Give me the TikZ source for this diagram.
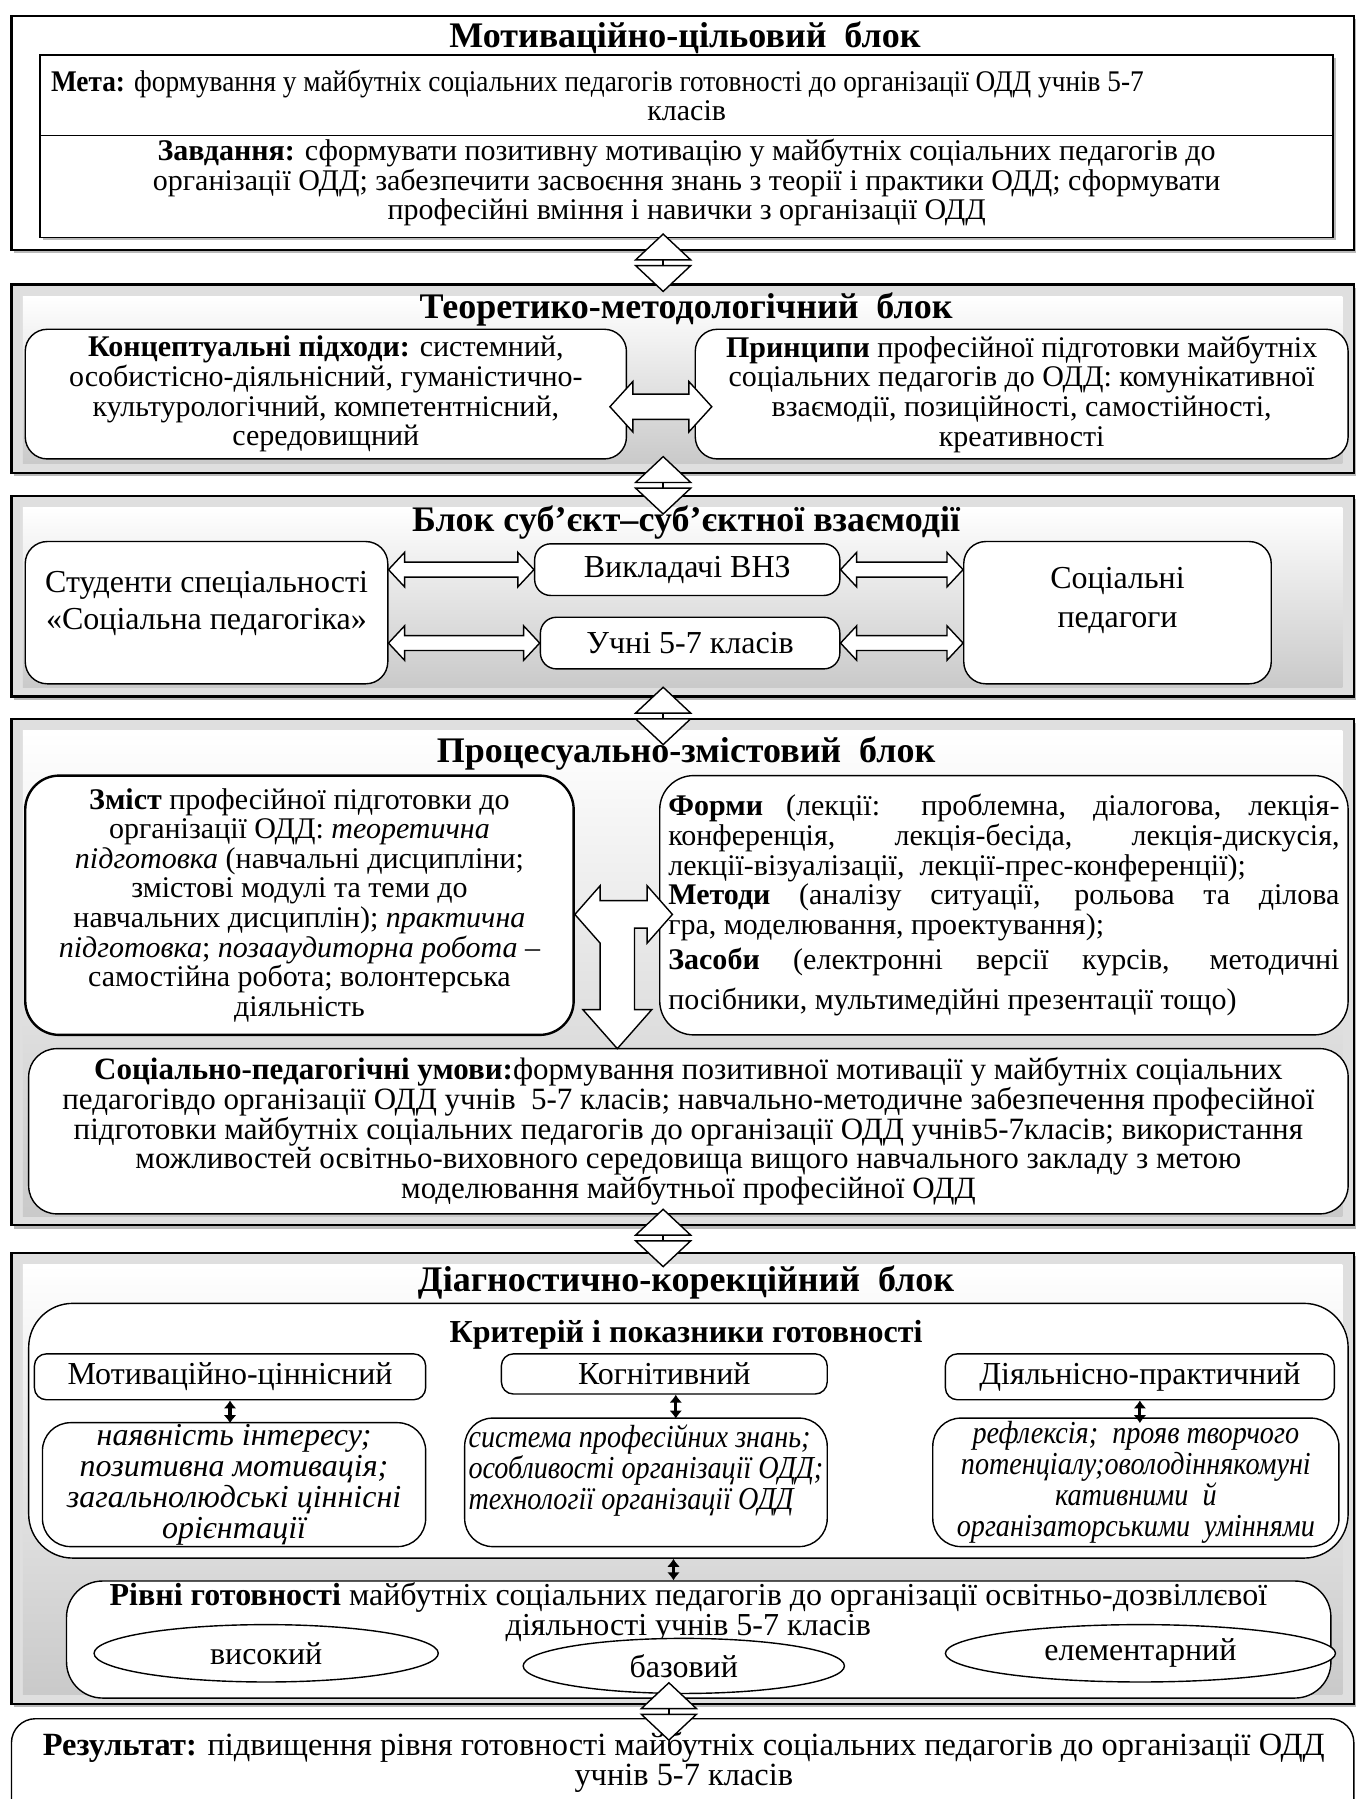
\documentclass[tikz,border=0pt]{standalone}
\usepackage{fontspec}
\setmainfont{Liberation Serif}
\newfontfamily\vuzkyi[FakeStretch=0.91]{Liberation Serif}
\newfontfamily\kurs[FakeStretch=0.88]{Liberation Serif}
\usepackage{tikz}
\usetikzlibrary{calc}
\usetikzlibrary{positioning}
\usetikzlibrary{shapes.geometric}
\usetikzlibrary{arrows.meta}
\usetikzlibrary{shadows}

\newlength{\od}
\setlength{\od}{0.5735pt}
\newcommand{\osn}{\fontsize{15}{14.8}\selectfont}
\newcommand{\osnv}{\fontsize{16}{15.4}\selectfont}
\newcommand{\zag}{\fontsize{18}{20}\selectfont\bfseries}

\tikzset{
  ramec/.style args={#1/#2/#3/#4}{at={(#1/2+#3/2,#2/2+#4/2)},
    minimum width={(#3-#1)*\od}, minimum height={(#4-#2)*\od}},
  blok/.style={draw, line width=1.1pt, fill=gray!25, inner sep=0pt,
    drop shadow={shadow xshift=1.3pt, shadow yshift=-1.6pt, fill=gray!55, opacity=1}},
  tin/.style={drop shadow={shadow xshift=1.5pt, shadow yshift=-1.5pt, fill=gray!55, opacity=1}},
  panel/.style={inner sep=0pt, top color=white, bottom color=gray!42},
  zagol/.style={font=\zag, inner sep=0pt},
  ramka/.style={draw, fill=white, line width=0.8pt, inner sep=0pt, align=center, font=\osn},
  okr/.style={draw, fill=white, rounded corners=11pt, line width=0.7pt, inner sep=0pt, align=center, font=\osn},
  kursiv/.style={okr, font=\osnv\itshape},
  tekst/.style={inner sep=0pt, align=center, font=\osn},
  dvostril/.style n args={3}{draw, fill=white, line width=0.7pt, to path={
    ($(\tikztostart)+(0,0)$) -- ($(\tikztostart)+(#1,-#2)$) -- ($(\tikztostart)+(#1,-#3)$)
    -- ($(\tikztotarget)+(-#1,-#3)$) -- ($(\tikztotarget)+(-#1,-#2)$) -- (\tikztotarget)
    -- ($(\tikztotarget)+(-#1,#2)$) -- ($(\tikztotarget)+(-#1,#3)$) -- ($(\tikztostart)+(#1,#3)$)
    -- ($(\tikztostart)+(#1,#2)$) -- cycle}},
  malastr/.style={{Latex[length=4pt,width=6.5pt]}-{Latex[length=4pt,width=6.5pt]}, line width=1.6pt},
  riven/.style={ellipse, draw, fill=white, line width=0.7pt, inner sep=0pt, font=\osnv},
  updown/.pic={
    \draw[line width=0.7pt, fill=white] (-24,-2.5) -- (0,-25) -- (24,-2.5) -- cycle;
    \draw[line width=0.7pt, fill=white] (-24,2.5) -- (0,25) -- (24,2.5) -- cycle;
    \draw[line width=0.7pt] (0,-2.5) -- (0,2.5);
  }
}

\begin{document}
\begin{tikzpicture}[x=0.5735pt, y=-0.5735pt]
\useasboundingbox (0,0) rectangle (1182,1568);
\clip (0,0) rectangle (1182,1568);

% блок 1
\node[blok, fill=white, ramec=10/14/1180/218] (b1) {};
\node[zagol] (t1) at (597,33) {Мотиваційно-цільовий~ блок};
\node[ramka, tin, ramec=35/48/1162/207] (r1) {};
\node[ramka, ramec=35/48/1162/118] (meta) {\makebox[1108\od][l]{\vuzkyi\textbf{Мета:} формування у майбутніх соціальних педагогів готовності до організації ОДД учнів 5-7}\\класів};
\node[ramka, ramec=35/118/1162/207] (zavd) {\textbf{Завдання:} сформувати позитивну мотивацію у майбутніх соціальних педагогів до\\
  організації ОДД; забезпечити засвоєння знань з теорії і практики ОДД; сформувати\\
  професійні вміння і навички з організації ОДД\\[-8pt]\mbox{}};

% блок 2
\node[blok, ramec=10/248/1180/412] (b2) {};
\node[panel, ramec=20/258/1170/404] (p2) {};
\node[zagol] (t2) at (598,270) {Теоретико-методологічний~ блок};
\node[okr, ramec=22/287/546/400] (konc) {\textbf{Концептуальні підходи:} системний,\\
  особистісно-діяльнісний, гуманістично-\\культурологічний, компетентнісний,\\середовищний};
\node[okr, ramec=606/287/1175/400] (pryn) {\textbf{Принципи} професійної підготовки майбутніх\\
  соціальних педагогів до ОДД: комунікативної\\взаємодії, позиційності, самостійності,\\креативності};
\draw[dvostril={20}{22}{11}] ($(konc.east)+(-15,11)$) to ($(pryn.west)+(15,11)$);

% блок 3
\node[blok, ramec=10/432/1180/607] (b3) {};
\node[panel, ramec=20/442/1170/599] (p3) {};
\node[zagol] (t3) at (598,455) {Блок суб’єкт–суб’єктної взаємодії};
\node[okr, font=\osnv, ramec=22/472/338/596] (stud) {Студенти спеціальності\\[3pt]«Соціальна педагогіка»\\[-3pt]\mbox{}};
\node[okr, font=\osnv, rounded corners=8pt, ramec=466/474/732/519] (vykl) {Викладачі ВНЗ};
\node[okr, font=\osnv, rounded corners=8pt, ramec=471/538/732/583] (uchni) {Учні 5-7 класів};
\node[okr, font=\osnv, ramec=840/472/1108/596] (socp) {Соціальні\\[4pt]педагоги\\ \mbox{}};
\draw[dvostril={14}{15}{6.5}] (stud.east |- vykl.west) to (vykl.west);
\draw[dvostril={14}{15}{6.5}] (stud.east |- uchni.west) to (uchni.west);
\draw[dvostril={14}{15}{6.5}] (vykl.east) to (socp.west |- vykl.east);
\draw[dvostril={14}{15}{6.5}] (uchni.east) to (socp.west |- uchni.east);

% блок 4
\node[blok, ramec=10/627/1180/1068] (b4) {};
\node[panel, ramec=20/637/1170/1060] (p4) {};
\node[zagol] (t4) at (598,657) {Процесуально-змістовий~ блок};
\node[okr, line width=1.2pt, rounded corners=17pt, ramec=22/676/500/902] (zmist) {\textbf{Зміст} професійної підготовки до\\
  організації ОДД: \textit{теоретична}\\\textit{підготовка} (навчальні дисципліни;\\змістові модулі та теми до\\
  навчальних дисциплін); \textit{практична}\\\textit{підготовка}; \textit{позааудиторна робота} –\\
  самостійна робота; волонтерська\\діяльність};
\node[okr, rounded corners=17pt, align=left, ramec=575/676/1175/902] (formy) {%
  \makebox[585\od][s]{\textbf{Форми} (лекції: проблемна, діалогова, лекція-}\\
  \makebox[585\od][s]{конференція, лекція-бесіда, лекція-дискусія,}\\
  лекції-візуалізації,~ лекції-прес-конференції);\\
  \makebox[585\od][s]{\textbf{Методи} (аналізу ситуації, рольова та ділова}\\
  гра, моделювання, проектування);\\[3pt]
  \makebox[585\od][s]{\textbf{Засоби} (електронні версії курсів, методичні}\\[5pt]
  посібники, мультимедійні презентації тощо)};
\node[okr, font=\fontsize{15.5}{14.8}\selectfont, rounded corners=14pt, ramec=25/914/1175/1058] (umovy) {\textbf{Соціально-педагогічні умови:}формування позитивної мотивації у майбутніх соціальних\\
  педагогівдо організації ОДД учнів~ 5-7 класів; навчально-методичне забезпечення професійної\\
  підготовки майбутніх соціальних педагогів до організації ОДД учнів5-7класів; використання\\
  можливостей освітньо-виховного середовища вищого навчального закладу з метою\\
  моделювання майбутньої професійної ОДД};
\coordinate (zl) at (zmist.east |- 0,797);
\draw[line width=0.7pt, fill=white] (zl) -- ++(22,-25) -- ++(0,13) -- ++(41,0) -- ++(0,-13) -- ++(22,25)
  -- ++(-22,25) -- ++(0,-13) -- ++(-11,0) -- ++(0,71) -- ++(15,0) -- ++(-30,34) -- ++(-30,-34)
  -- ++(15,0) -- ++(0,-58) -- cycle;

% блок 5
\node[blok, ramec=10/1092/1180/1485] (b5) {};
\node[panel, ramec=20/1102/1170/1477] (p5) {};
\node[zagol] (t5) at (598,1118) {Діагностично-корекційний~ блок};
\node[okr, rounded corners=22pt, ramec=25/1136/1175/1358] (kryt) {};
\node[tekst, font=\fontsize{16}{18}\selectfont\bfseries] (krt) at (598,1163) {Критерій і показники готовності};
\node[okr, font=\osnv, rounded corners=6pt, ramec=30/1180/371/1220] (mc) {Мотиваційно-ціннісний};
\node[okr, font=\osnv, rounded corners=6pt, ramec=437/1180/721/1215] (kog) {Когнітивний};
\node[okr, font=\osnv, rounded corners=6pt, ramec=824/1180/1163/1220] (dp) {Діяльнісно-практичний};
\node[kursiv, rounded corners=14pt, ramec=37/1240/371/1348] (mci) {наявність інтересу;\\позитивна мотивація;\\загальнолюдські ціннісні\\орієнтації};
\node[kursiv, font=\kurs\osnv\itshape, rounded corners=14pt, align=left, ramec=405/1236/721/1348] (kogi) {система професійних знань;\\особливості організації ОДД;\\технології організації ОДД\\ \mbox{}};
\node[kursiv, font=\kurs\osnv\itshape, rounded corners=14pt, ramec=813/1236/1167/1348] (dpi) {рефлексія;~ прояв творчого\\потенціалу;оволодіннякомуні\\кативними~ й\\організаторськими~ уміннями};
\draw[malastr] (mc.south) -- ($(mc.south |- mci.north)+(0,1)$);
\coordinate (k1) at ($(kog.south)+(10,0)$);
\draw[malastr] (k1) -- ($(k1 |- kogi.north)+(0,1)$);
\draw[malastr] (dp.south) -- ($(dp.south |- dpi.north)+(0,5)$);
\node[okr, rounded corners=18pt, ramec=58/1378/1160/1480] (rivni) {};
\coordinate (k2) at ($(kryt.south)+(-13,0)$);
\draw[malastr] (k2) -- (k2 |- rivni.north);
\node[tekst, font=\fontsize{16}{15}\selectfont, anchor=north] (rivt) at (600,1379) {\textbf{Рівні готовності} майбутніх соціальних педагогів до організації освітньо-дозвіллєвої\\діяльності учнів 5-7 класів};
\node[riven, minimum width=300*\od, minimum height=50*\od] (vys) at (232,1441) {високий};
\node[riven, minimum width=280*\od, minimum height=48*\od] (baz) at (596,1452) {базовий};
\node[riven, minimum width=340*\od, minimum height=50*\od] (elem) at (994,1441) {елементарний};

% результат
\node[okr, rounded corners=12pt, ramec=10/1498/1180/1600] (rez) {};
\node[tekst, font=\fontsize{16.2}{15}\selectfont] (rezt) at (596,1536) {\textbf{Результат:} підвищення рівня готовності майбутніх соціальних педагогів до організації ОДД\\учнів 5-7 класів};

% зв'язки між блоками
\pic at ($(b1.south)!0.5!(b2.north)+(-17,-4)$) {updown};
\pic at ($(b2.south)!0.5!(b3.north)+(-17,1)$) {updown};
\pic at ($(b3.south)!0.5!(b4.north)+(-17,7)$) {updown};
\pic at ($(b4.south)!0.5!(b5.north)+(-17,-1)$) {updown};
\pic at ($(b5.south)!0.5!(rez.north)+(-12,0)$) {updown};
\end{tikzpicture}
\end{document}
